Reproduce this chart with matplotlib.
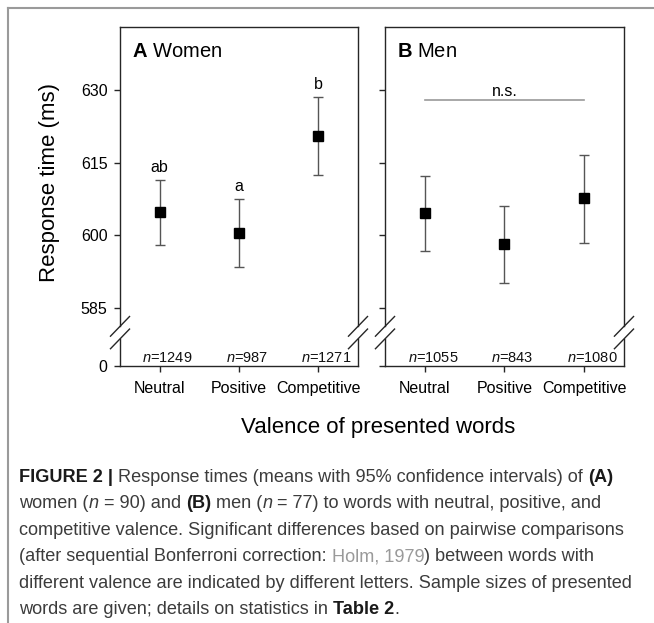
import numpy as np
import matplotlib
matplotlib.use('Agg')
import matplotlib.pyplot as plt
from matplotlib.lines import Line2D

plt.rcParams['font.family'] = ['Liberation Sans', 'DejaVu Sans']
plt.rcParams['mathtext.fontset'] = 'custom'
plt.rcParams['mathtext.rm'] = 'Liberation Sans'
plt.rcParams['mathtext.it'] = 'Liberation Sans:italic'
plt.rcParams['mathtext.bf'] = 'Liberation Sans:bold'

# data (ms)
categories = ['Neutral', 'Positive', 'Competitive']
women_mean = [604.7, 600.4, 620.5]
women_low = [597.9, 593.4, 612.5]
women_high = [611.4, 607.5, 628.6]
women_n = [1249, 987, 1271]
women_letters = ['ab', 'a', 'b']
men_mean = [604.5, 598.1, 607.6]
men_low = [596.8, 590.1, 598.4]
men_high = [612.3, 606.1, 616.6]
men_n = [1055, 843, 1080]
ns_level = 628.0
ytick_values = [0, 585, 600, 615, 630]

# broken axis: 0 is drawn just below the 585 tick
ZERO_POS = 573.0
YTOP = 643.0


def ypos(v):
    v = np.asarray(v, dtype=float)
    return np.where(v == 0, ZERO_POS, v)


frame_col = '#262626'
bar_col = '#555555'

fig = plt.figure(figsize=(6.54, 6.23), dpi=100)
axA = fig.add_axes([0.1835, 0.4125, 0.3639, 0.5442])
axB = fig.add_axes([0.5887, 0.4125, 0.3654, 0.5442])


def draw_panel(ax, mean, low, high, n, title, show_ylabels):
    x = np.arange(len(categories))
    mean = np.array(mean)
    err = [mean - np.array(low), np.array(high) - mean]
    ax.errorbar(x, mean, yerr=err, fmt='s', color='black', ms=7.2,
                ecolor=bar_col, elinewidth=1, capsize=3.6, capthick=1, zorder=3)
    for xi, ni in zip(x, n):
        ax.text(xi + 0.1, ZERO_POS + 0.8, f'$n$={ni}', ha='center',
                va='baseline', fontsize=10.5, color='#111111')
    ax.set_xlim(-0.5, 2.5)
    ax.set_ylim(ZERO_POS, YTOP)
    ax.set_xticks(x)
    ax.set_xticklabels(categories, fontsize=11.5)
    ax.set_yticks(ypos(ytick_values))
    if show_ylabels:
        ax.set_yticklabels([str(v) for v in ytick_values], fontsize=11.5)
    else:
        ax.set_yticklabels([])
    ax.tick_params(axis='both', direction='out', length=4, width=1,
                   color=frame_col, pad=5)
    ax.tick_params(axis='x', pad=7)
    ax.text(0.05, 0.927, title, transform=ax.transAxes, fontsize=14.5,
            va='center', ha='left')

    # frame with a break on both sides
    for side in ['left', 'right']:
        ax.spines[side].set_visible(False)
    for sp in ['top', 'bottom']:
        ax.spines[sp].set_color(frame_col)
        ax.spines[sp].set_linewidth(1)
    g0, g1 = 0.080, 0.117
    for xs in [0, 1]:
        ax.plot([xs, xs], [0, g0], transform=ax.transAxes, color=frame_col,
                lw=1, clip_on=False)
        ax.plot([xs, xs], [g1, 1], transform=ax.transAxes, color=frame_col,
                lw=1, clip_on=False)
        for yc in [g0, g1]:
            ax.plot([xs - 0.04, xs + 0.04], [yc - 0.029, yc + 0.029],
                    transform=ax.transAxes, color=frame_col, lw=1,
                    clip_on=False)


draw_panel(axA, women_mean, women_low, women_high, women_n,
           r'$\mathbf{A}$ Women', True)
draw_panel(axB, men_mean, men_low, men_high, men_n,
           r'$\mathbf{B}$ Men', False)

# letters for the pairwise comparisons (women)
for xi, (hi, lab) in enumerate(zip(women_high, women_letters)):
    axA.text(xi, hi + 1.6, lab, ha='center', va='baseline', fontsize=11.5)

# n.s. bar (men)
axB.plot([0, 2], [ns_level, ns_level], color='#999999', lw=1.2)
axB.text(1, ns_level + 0.7, 'n.s.', ha='center', va='baseline', fontsize=11.5)

fig.text(50 / 654, 1 - 182 / 623, 'Response time (ms)', rotation=90,
         ha='center', va='center', fontsize=16)
fig.text(378 / 654, 1 - 428 / 623, 'Valence of presented words',
         ha='center', va='center', fontsize=16)

# outer caption box (open to the right and bottom)
box_col = '#9a9a9a'
fig.add_artist(Line2D([7.5 / 654, 1], [1 - 7.5 / 623, 1 - 7.5 / 623],
                      color=box_col, lw=1.5))
fig.add_artist(Line2D([7.5 / 654, 7.5 / 654], [0, 1 - 7.5 / 623],
                      color=box_col, lw=1.5))

# caption, built segment by segment
txt = '#3c3c3c'
caption = [
    [('FIGURE 2 |', 'b'), (' Response times (means with 95% confidence intervals) of ', 'r'), ('(A)', 'b')],
    [('women (', 'r'), ('n', 'i'), (' = 90) and ', 'r'), ('(B)', 'b'), (' men (', 'r'), ('n', 'i'),
     (' = 77) to words with neutral, positive, and', 'r')],
    [('competitive valence. Significant differences based on pairwise comparisons', 'r')],
    [('(after sequential Bonferroni correction: ', 'r'), ('Holm, 1979', 'l'), (') between words with', 'r')],
    [('different valence are indicated by different letters. Sample sizes of presented', 'r')],
    [('words are given; details on statistics in ', 'r'), ('Table 2', 'b'), ('.', 'r')],
]
styles = {
    'r': dict(color=txt),
    'b': dict(color='#1a1a1a', fontweight='bold'),
    'i': dict(color=txt, fontstyle='italic'),
    'l': dict(color='#9a9a9a'),
}
cap_ax = fig.add_axes([0, 0, 1, 1])
cap_ax.axis('off')
cap_ax.set_zorder(-1)
first_base = 482
for k, line in enumerate(caption):
    prev = None
    ybase = 1 - (first_base + k * 26.4) / 623
    for s, st in line:
        kw = dict(fontsize=13.1, ha='left', **styles[st])
        if prev is None:
            prev = cap_ax.annotate(s, xy=(19 / 654, ybase),
                                   xycoords='figure fraction',
                                   va='baseline', **kw)
        else:
            prev = cap_ax.annotate(s, xy=(1, 0), xycoords=prev,
                                   va='bottom', **kw)

fig.savefig('out.png', dpi=100)
